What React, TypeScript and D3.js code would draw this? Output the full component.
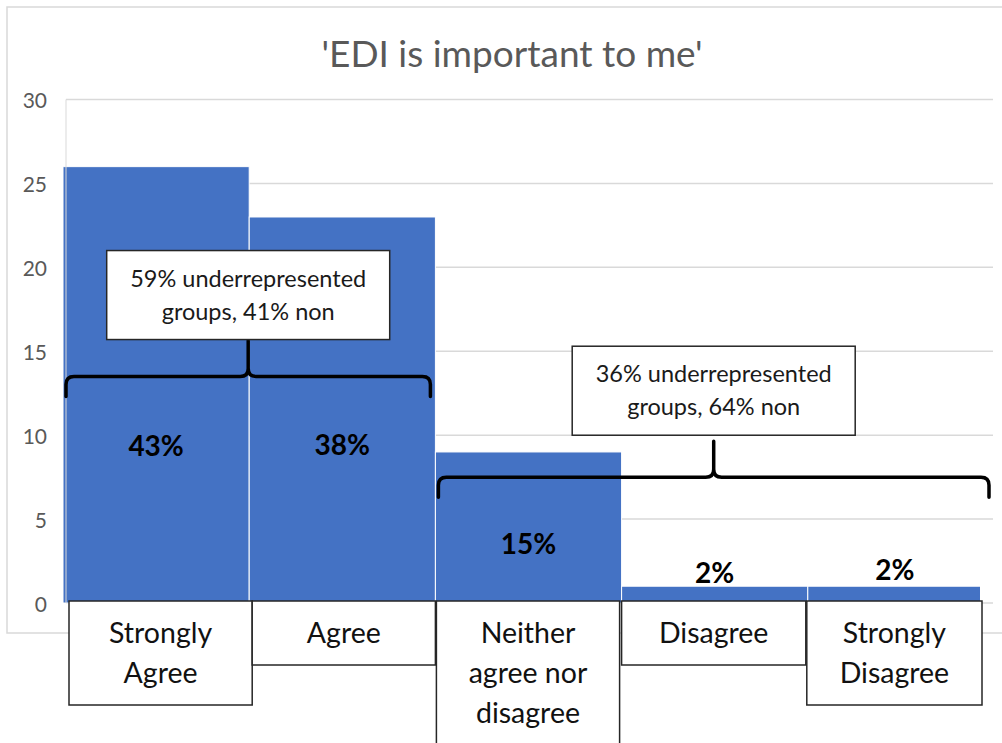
import React from "react";
import * as d3 from "d3";

const title = "'EDI is important to me'";
const categories = ["Strongly Agree", "Agree", "Neither agree nor disagree", "Disagree", "Strongly Disagree"];
const categoryLines = [["Strongly", "Agree"], ["Agree"], ["Neither", "agree nor", "disagree"], ["Disagree"], ["Strongly", "Disagree"]];
const counts = [26, 23, 9, 1, 1];
const pctLabels = ["43%", "38%", "15%", "2%", "2%"];
const yTicks = [0, 5, 10, 15, 20, 25, 30];
const groupFrom = [0, 2];
const groupTo = [1, 4];
const groupNoteLines = [
  ["59% underrepresented", "groups, 41% non"],
  ["36% underrepresented", "groups, 64% non"],
];

// layout constants (positions in value units / pixels, not data)
const pctLabelAt = [9.4, 9.5, 3.6, 1.85, 2.0];
const braceAt = [13.5, 7.5];
const noteBoxTop = [21.0, 15.3];
const boxLeftInset = [6, 3, 1, 0, -1];
const boxRightInset = [3, 0, -2, -2, -12];

const W = 1002;
const H = 743;
const FONT = "Lato, 'Open Sans', sans-serif";

export default function App() {
  const x = d3.scaleBand<string>().domain(categories).range([63, 994]).paddingInner(0).paddingOuter(0);
  const y = d3.scaleLinear().domain([0, 30]).range([603, 99.5]);
  const bw = x.bandwidth();

  const bracePath = (x0: number, x1: number, yy: number) => {
    const r = 8;
    const drop = 20;
    const rise = 36;
    const xm = (x0 + x1) / 2;
    const p = d3.path();
    p.moveTo(x0, yy + drop);
    p.lineTo(x0, yy + r);
    p.quadraticCurveTo(x0, yy, x0 + r, yy);
    p.lineTo(xm - r, yy);
    p.quadraticCurveTo(xm, yy, xm, yy - r);
    p.lineTo(xm, yy - rise);
    p.moveTo(xm, yy - r);
    p.quadraticCurveTo(xm, yy, xm + r, yy);
    p.lineTo(x1 - r, yy);
    p.quadraticCurveTo(x1, yy, x1, yy + r);
    p.lineTo(x1, yy + drop);
    return p.toString();
  };

  return (
    <svg width={W} height={H} style={{ position: "absolute", left: 0, top: 0, background: "#fff" }} fontFamily={FONT}>
      <defs>
        <clipPath id="plotClip">
          <rect x={0} y={0} width={980} height={H} />
        </clipPath>
      </defs>
      <rect x={7} y={7} width={1010} height={626} fill="#fff" stroke="#d9d9d9" strokeWidth={1.5} />
      <text x={512} y={52} textAnchor="middle" dominantBaseline="central" fontSize={37} fill="#595959">
        {title}
      </text>
      {yTicks.map((t) => (
        <g key={t}>
          <line x1={66} x2={993} y1={y(t)} y2={y(t)} stroke="#d9d9d9" strokeWidth={1.5} />
          <text x={47} y={y(t)} textAnchor="end" dominantBaseline="central" fontSize={21} fill="#595959">
            {t}
          </text>
        </g>
      ))}
      <g clipPath="url(#plotClip)">
        {categories.map((c, i) => (
          <rect key={c} x={x(c)!} y={y(counts[i])} width={bw} height={y(0) - y(counts[i])} fill="#4472C4" stroke="#ffffff" strokeWidth={1} />
        ))}
      </g>
      <line x1={66} x2={66} y1={y(30)} y2={y(0)} stroke="#d9d9d9" strokeWidth={1} />
      {categories.map((c, i) => (
        <text key={c} x={x(c)! + bw / 2 - (i === 4 ? 6 : 0)} y={y(pctLabelAt[i])} textAnchor="middle" dominantBaseline="central" fontSize={28} fontWeight="bold" fill="#000">
          {pctLabels[i]}
        </text>
      ))}
      {categories.map((c, i) => {
        const lines = categoryLines[i];
        const x0 = x(c)! + boxLeftInset[i];
        const x1 = x(c)! + bw + boxRightInset[i];
        const top = 601;
        const h = 24 + 40 * lines.length;
        return (
          <g key={c}>
            <rect x={x0} y={top} width={x1 - x0} height={h} fill="#fff" stroke="#262626" strokeWidth={1.5} />
            {lines.map((l, k) => (
              <text key={k} x={(x0 + x1) / 2} y={top + 31 + 40 * k} textAnchor="middle" dominantBaseline="central" fontSize={28.5} fill="#111">
                {l}
              </text>
            ))}
          </g>
        );
      })}
      {groupFrom.map((f, g) => {
        const x0 = x(categories[f])! + 3;
        const x1 = x(categories[groupTo[g]])! + bw - 5;
        const xm = (x0 + x1) / 2;
        const by = y(braceAt[g]);
        const top = y(noteBoxTop[g]);
        const bwid = 283;
        const bh = 89;
        return (
          <g key={g}>
            <path d={bracePath(x0, x1, by)} fill="none" stroke="#000" strokeWidth={3.5} strokeLinecap="round" strokeLinejoin="round" />
            <rect x={xm - bwid / 2} y={top} width={bwid} height={bh} fill="#fff" stroke="#262626" strokeWidth={1.5} />
            {groupNoteLines[g].map((l, k) => (
              <text key={k} x={xm} y={top + 27 + 33 * k} textAnchor="middle" dominantBaseline="central" fontSize={23.5} fill="#1a1a1a">
                {l}
              </text>
            ))}
          </g>
        );
      })}
    </svg>
  );
}
